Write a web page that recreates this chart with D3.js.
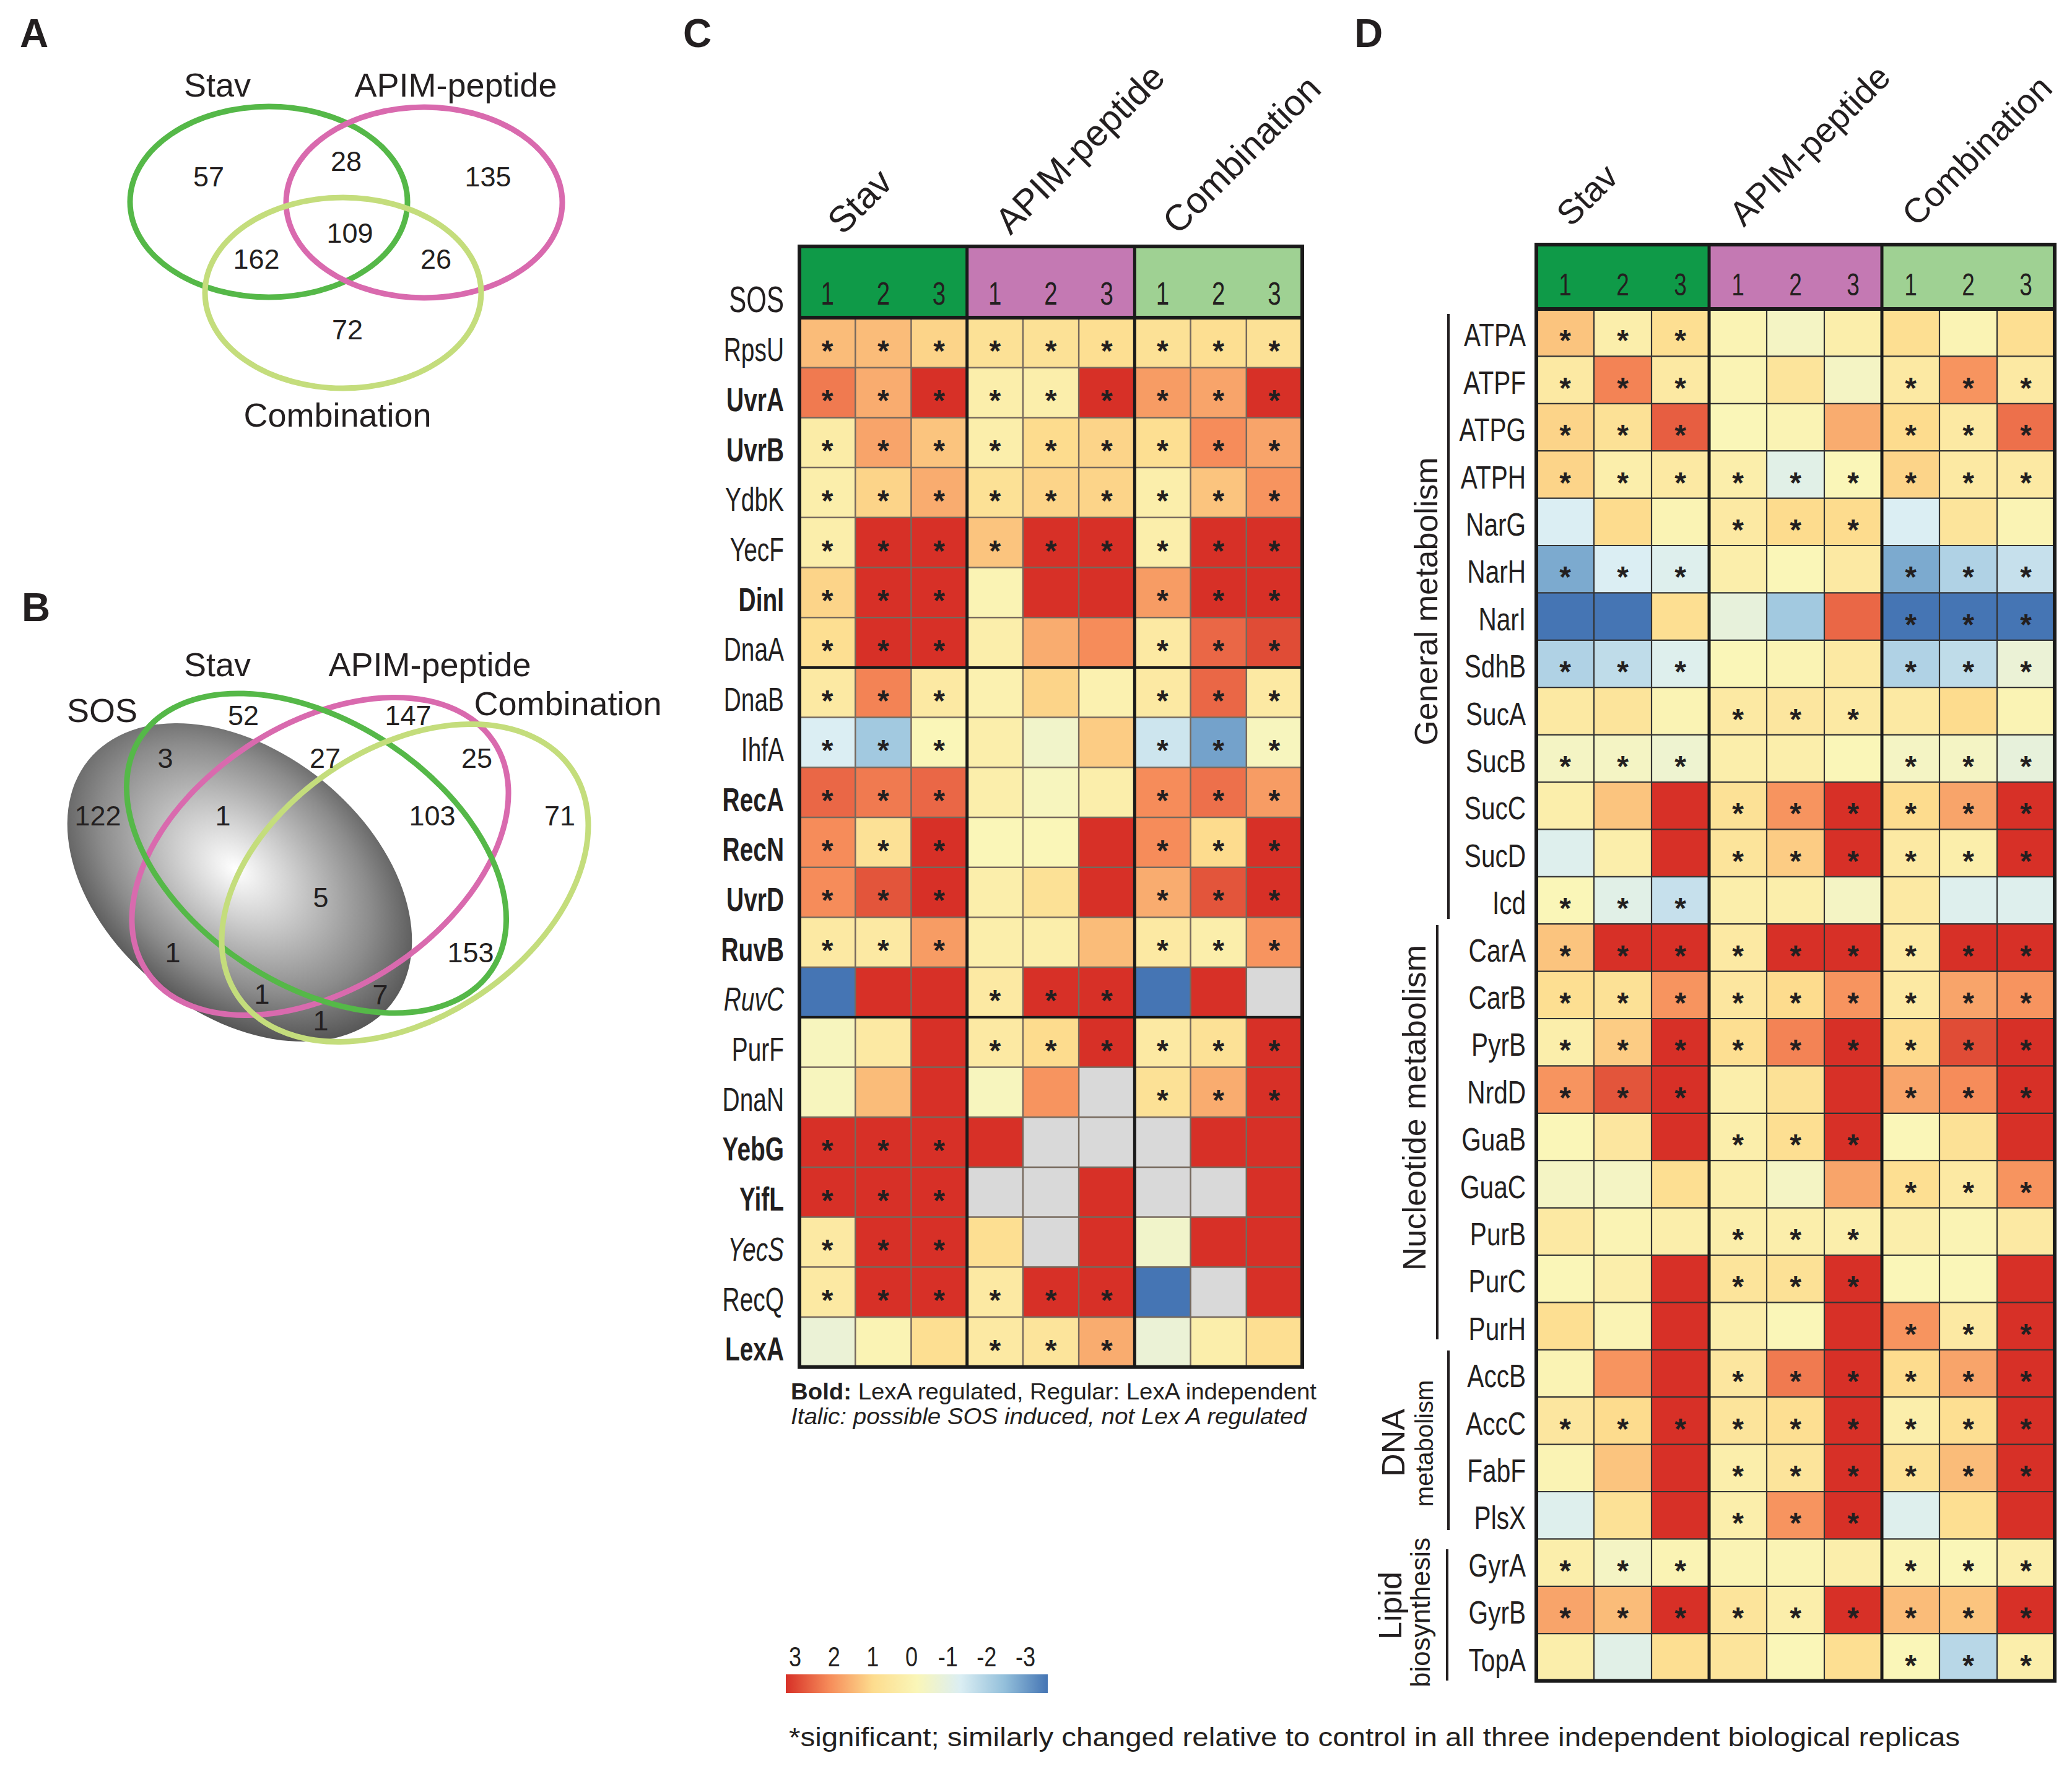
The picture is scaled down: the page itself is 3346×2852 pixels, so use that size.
<!DOCTYPE html>
<html><head><meta charset="utf-8">
<script src="https://cdn.jsdelivr.net/npm/d3@7"></script>
<style>
body{margin:0;background:#fff}
svg{display:block}
text{font-family:"Liberation Sans",Arial,Helvetica,sans-serif;fill:#231f20}
</style>
</head><body>
<svg id="chart" width="3346" height="2852"></svg>
<script>
// ---------------- DATA ----------------
const groups = ["Stav", "APIM-peptide", "Combination"];
const replicates = ["1", "2", "3"];
const groupColors = ["#0f9a48", "#c479b3", "#9fd193"];

// Venn A: Stav, APIM-peptide, Combination
const vennA_sets = ["Stav", "APIM-peptide", "Combination"];
const vennA_counts = [57, 28, 135, 109, 162, 26, 72]; // S only, S∩A, A only, all, S∩C, A∩C, C only

// Venn B: SOS, Stav, APIM-peptide, Combination
const vennB_sets = ["SOS", "Stav", "APIM-peptide", "Combination"];
const vennB_counts = [52, 147, 3, 27, 25, 122, 1, 103, 71, 5, 1, 153, 1, 7, 1];

// Panel C: SOS genes
const genesC = ["RpsU","UvrA","UvrB","YdbK","YecF","DinI","DnaA","DnaB","IhfA","RecA","RecN","UvrD","RuvB","RuvC","PurF","DnaN","YebG","YifL","YecS","RecQ","LexA"];
const styleC = ["r","b","b","r","r","b","r","r","r","b","b","b","b","i","r","r","b","b","i","r","b"];
// log-change values, columns Stav1-3, APIM1-3, Combination1-3 (null = not detected)
const valuesC = [
  [1.4,1.4,1.1, 0.8,0.8,0.9, 0.8,0.9,0.8],
  [2.2,1.6,3, 0.3,0.3,3, 1.8,1.7,3],
  [0.4,1.7,1.3, 0.3,1.0,1.1, 0.9,2.0,1.7],
  [0.3,1.1,1.6, 0.8,1.1,1.1, 0.3,1.3,1.9],
  [0.3,3,3, 1.3,3,3, 0.3,3,3],
  [1.1,3,3, 0.1,3,3, 1.8,3,3],
  [0.9,3,3, 0.3,1.6,2.0, 0.5,2.4,2.7],
  [0.5,2.1,0.5, 0.2,1.1,0.2, 0.5,2.4,0.5],
  [-1.0,-1.8,0.0, 0.3,-0.3,1.2, -1.2,-2.4,-0.1],
  [2.4,2.2,2.4, 0.3,-0.1,0.3, 2.0,2.3,1.8],
  [2.0,0.8,3, 0.0,0.0,3, 2.0,1.0,3],
  [2.0,2.6,3, 0.3,0.8,3, 1.6,2.6,3],
  [0.5,0.5,1.8, 0.3,0.3,1.4, 0.5,0.3,1.9],
  [-3,3,3, 0.5,3,3, -3,3,null],
  [-0.1,0.5,3, 0.5,1.0,3, 0.5,0.8,3],
  [-0.1,1.4,3, -0.1,1.9,null, 0.8,1.6,3],
  [3,3,3, 3,null,null, null,3,3],
  [3,3,3, null,null,3, null,null,3],
  [0.5,3,3, 0.9,null,3, -0.3,3,3],
  [0.5,3,3, 0.5,3,3, -3,null,3],
  [-0.5,0.1,0.9, 0.5,0.7,1.6, -0.5,0.3,0.9]
];
const sigC = ["111111111","111111111","111111111","111111111","111111111","111000111","111000111","111000111","111000111","111000111","111000111","111000111","111000111","000111000","000111111","000000111","111000000","111000000","111000000","111111000","000111000"];

// Panel D: metabolism genes
const genesD = ["ATPA","ATPF","ATPG","ATPH","NarG","NarH","NarI","SdhB","SucA","SucB","SucC","SucD","Icd","CarA","CarB","PyrB","NrdD","GuaB","GuaC","PurB","PurC","PurH","AccB","AccC","FabF","PlsX","GyrA","GyrB","TopA"];
const valuesD = [
  [1.3,0.3,0.9, 0.1,-0.2,0.3, 0.9,0.1,0.9],
  [0.5,2.1,0.5, 0.1,0.7,-0.2, 0.5,1.9,0.5],
  [1.1,0.8,2.5, 0.0,0.1,1.6, 1.0,0.5,2.3],
  [1.1,0.3,0.5, 0.3,-0.8,0.0, 1.1,0.5,0.5],
  [-1.0,1.0,0.1, 0.5,1.0,1.0, -1.0,0.7,0.1],
  [-2.3,-1.0,-0.9, 0.3,0.0,0.5, -2.3,-1.6,-1.3],
  [-3,-3,0.9, -0.6,-1.8,2.4, -3,-3,-3],
  [-1.6,-1.4,-0.9, 0.0,0.1,0.5, -1.6,-1.4,-0.5],
  [0.5,0.7,0.1, 0.5,0.6,0.5, 0.5,1.0,0.1],
  [-0.2,-0.2,-0.4, 0.3,0.3,0.0, -0.2,-0.2,-0.6],
  [0.3,1.3,3, 0.8,1.9,3, 1.0,1.7,3],
  [-0.9,0.3,3, 0.7,1.2,3, 0.5,0.3,3],
  [0.0,-0.8,-1.3, 0.3,0.3,-0.2, 0.5,-0.9,-0.9],
  [1.3,3,3, 0.5,3,3, 0.5,3,3],
  [0.9,0.8,1.9, 0.6,1.0,1.9, 0.5,1.7,1.9],
  [0.3,1.2,3, 0.9,2.1,3, 1.0,2.7,3],
  [1.9,2.6,3, 0.3,0.8,3, 1.7,2.0,3],
  [0.0,0.6,3, 0.3,0.9,3, 0.0,0.8,3],
  [-0.2,-0.2,0.9, 0.3,-0.2,1.7, 0.9,0.5,1.9],
  [0.5,0.1,0.3, 0.3,0.3,0.3, 0.3,0.1,0.5],
  [0.0,0.3,3, 0.7,0.8,3, 0.0,0.0,3],
  [0.9,0.1,3, 0.3,0.0,3, 1.9,0.5,3],
  [0.1,1.9,3, 0.6,2.2,3, 1.0,1.7,3],
  [0.6,1.0,3, 0.7,0.9,3, 0.3,0.9,3],
  [0.1,1.3,3, 0.3,0.7,3, 0.8,1.4,3],
  [-0.9,0.8,3, 0.3,1.9,3, -0.9,0.9,3],
  [0.3,-0.2,0.1, 0.1,0.1,0.3, 0.1,0.0,0.3],
  [1.7,1.4,3, 0.7,0.3,3, 1.4,1.3,3],
  [0.3,-0.8,0.9, 0.7,0.0,0.9, 0.0,-1.5,0.3]
];
const sigD = ["111000000","111000111","111000111","111111111","000111000","111000111","000000111","111000111","000111000","111000111","000111111","000111111","111000000","111111111","111111111","111111111","111000111","000111000","000000111","000111000","000111000","000000111","000111111","111111111","000111111","000111000","111000111","111111111","000000111"];
const categoriesD = [
  {label:["General metabolism"], from:"ATPA", to:"Icd"},
  {label:["Nucleotide metabolism"], from:"CarA", to:"PurH"},
  {label:["DNA","metabolism"], from:"AccB", to:"PlsX"},
  {label:["Lipid","biosynthesis"], from:"GyrA", to:"TopA"}
];

const legendTicks = [3, 2, 1, 0, -1, -2, -3];

// ---------------- STYLE / SCALES ----------------
const colorStops = [-3,-2,-1,0,1,2,3];
const colorRange = ['#4575b4','#94c0db','#dbeef3','#faf6b8','#fddc8e','#f68c5a','#d73027'];
const color = d3.scaleLinear().domain(colorStops).range(colorRange).clamp(true);
const naColor = '#d9d9d9';
const vennColors = {"Stav":"#55b848","APIM-peptide":"#d96aae","Combination":"#c4dd7c"};
const columns = groups.flatMap(g => replicates.map(r => g + "|" + r));

const svg = d3.select('#chart');
svg.append('rect').attr('width',3346).attr('height',2852).attr('fill','#fff');
const defs = svg.append('defs');

function ctext(sel, x, y, str, o) {
  o = o || {};
  const g = sel.append('g').attr('transform', `translate(${x},${y}) scale(${o.sx||1},1)`);
  const t = g.append('text').attr('text-anchor', o.anchor||'start')
    .attr('font-size', o.fs||50).attr('font-weight', o.fw||'normal')
    .attr('font-style', o.italic?'italic':'normal').text(str);
  return t;
}

// ---------------- PANEL LETTERS ----------------
[["A",32,76],["B",35,1003],["C",1103,76],["D",2187,76]].forEach(([l,x,y]) =>
  svg.append('text').attr('x',x).attr('y',y).attr('font-size',64).attr('font-weight','bold').text(l));

// ---------------- VENN A ----------------
const gA = svg.append('g');
const ellA = [
  {set:"Stav", cx:434, cy:326, rx:224, ry:154},
  {set:"APIM-peptide", cx:685, cy:327, rx:223, ry:154},
  {set:"Combination", cx:554, cy:473, rx:223, ry:154}
];
gA.selectAll('ellipse').data(ellA).join('ellipse')
  .attr('cx',d=>d.cx).attr('cy',d=>d.cy).attr('rx',d=>d.rx).attr('ry',d=>d.ry)
  .attr('fill','none').attr('stroke',d=>vennColors[d.set]).attr('stroke-width',9);
const labA = [[351,156],[736,156],[545,689]];
vennA_sets.forEach((s,i)=> gA.append('text').attr('x',labA[i][0]).attr('y',labA[i][1])
  .attr('text-anchor','middle').attr('font-size',54).text(s));
const posA = [[337,285],[559,260],[788,285],[565,376],[414,418],[704,418],[561,532]];
vennA_counts.forEach((c,i)=> gA.append('text').attr('x',posA[i][0]).attr('y',posA[i][1]+16)
  .attr('text-anchor','middle').attr('font-size',45).text(c));

// ---------------- VENN B ----------------
const gB = svg.append('g');
const sosGrad = defs.append('radialGradient').attr('id','sosGrad').attr('cx',0.47).attr('cy',0.47).attr('r',0.56);
[[0,'#ffffff'],[0.28,'#d2d2d2'],[0.7,'#8c8c8c'],[1,'#4f4f4f']].forEach(([o,c])=>
  sosGrad.append('stop').attr('offset',o).attr('stop-color',c));
gB.append('ellipse').attr('transform','translate(387,1425) rotate(38.9)')
  .attr('rx',314).attr('ry',212).attr('fill','url(#sosGrad)');
const ellB = [
  {set:"APIM-peptide", cx:517, cy:1383, a:336, b:213, rot:-33.4},
  {set:"Stav", cx:511, cy:1378, a:340, b:212, rot:33.6},
  {set:"Combination", cx:654, cy:1426, a:326, b:217, rot:-34.2}
];
gB.selectAll('ellipse.o').data(ellB).join('ellipse').attr('class','o')
  .attr('transform',d=>`translate(${d.cx},${d.cy}) rotate(${d.rot})`)
  .attr('rx',d=>d.a).attr('ry',d=>d.b)
  .attr('fill','none').attr('stroke',d=>vennColors[d.set]).attr('stroke-width',9);
const labB = [[165,1166],[351,1092],[694,1092],[917,1155]];
vennB_sets.forEach((s,i)=> gB.append('text').attr('x',labB[i][0]).attr('y',labB[i][1])
  .attr('text-anchor','middle').attr('font-size',54).text(s));
const posB = [[393,1155],[659,1155],[267,1224],[525,1224],[770,1224],[158,1317],[360,1317],[698,1317],[904,1317],[518,1449],[279,1538],[760,1538],[423,1605],[614,1606],[518,1648]];
vennB_counts.forEach((c,i)=> gB.append('text').attr('x',posB[i][0]).attr('y',posB[i][1]+16)
  .attr('text-anchor','middle').attr('font-size',45).text(c));

// ---------------- HEATMAPS ----------------
function heat(cfg) {
  const g = svg.append('g');
  const nR = cfg.genes.length;
  const x = d3.scaleBand().domain(columns).range([cfg.x0, cfg.x1]);
  const y = d3.scaleBand().domain(cfg.genes).range([cfg.rTop, cfg.rTop + cfg.rowH*nR]);
  const yb = cfg.rTop + cfg.rowH*nR;
  const cells = cfg.genes.flatMap((gene,i)=>columns.map((c,j)=>({gene, col:c, v:cfg.vals[i][j], s:cfg.sig[i][j]==='1'})));
  g.selectAll('rect.cell').data(cells).join('rect').attr('class','cell')
    .attr('x',d=>x(d.col)).attr('y',d=>y(d.gene))
    .attr('width',x.bandwidth()+0.6).attr('height',y.bandwidth()+0.6)
    .attr('fill',d=>d.v==null?naColor:color(d.v));
  // thin grid
  columns.forEach((c,j)=>{ if(j%3) g.append('line').attr('x1',x(c)).attr('x2',x(c)).attr('y1',cfg.rTop).attr('y2',yb)
    .attr('stroke',cfg.thin).attr('stroke-width',cfg.thinW); });
  cfg.genes.forEach((gene,i)=>{ if(i) g.append('line').attr('x1',cfg.x0).attr('x2',cfg.x1).attr('y1',y(gene)).attr('y2',y(gene))
    .attr('stroke',(cfg.thickRows||[]).includes(gene)?'#1a1a1a':cfg.thin)
    .attr('stroke-width',(cfg.thickRows||[]).includes(gene)?4:cfg.thinW); });
  // header
  groups.forEach((gr,k)=>{
    const gx = x(columns[k*3]);
    g.append('rect').attr('x',gx).attr('y',cfg.hTop).attr('width',x.bandwidth()*3).attr('height',cfg.rTop-cfg.hTop).attr('fill',groupColors[k]);
  });
  columns.forEach((c)=> ctext(g, x(c)+x.bandwidth()/2, cfg.numY, c.split('|')[1], {anchor:'middle', fs:cfg.numFs, sx:0.74}));
  // thick separators
  [1,2].forEach(k=>{ const xx = x(columns[k*3]);
    g.append('line').attr('x1',xx).attr('x2',xx).attr('y1',cfg.hTop).attr('y2',yb).attr('stroke','#1a1a1a').attr('stroke-width',5); });
  g.append('line').attr('x1',cfg.x0).attr('x2',cfg.x1).attr('y1',cfg.rTop).attr('y2',cfg.rTop).attr('stroke','#1a1a1a').attr('stroke-width',6);
  g.append('rect').attr('x',cfg.x0).attr('y',cfg.hTop).attr('width',cfg.x1-cfg.x0).attr('height',yb-cfg.hTop)
    .attr('fill','none').attr('stroke','#1a1a1a').attr('stroke-width',6);
  // stars
  g.selectAll('text.star').data(cells.filter(d=>d.s)).join('text').attr('class','star')
    .attr('x',d=>x(d.col)+x.bandwidth()/2).attr('y',d=>y(d.gene)+cfg.rowH*0.53+27)
    .attr('text-anchor','middle').attr('font-size',48).attr('font-weight','bold').text('*');
  // row labels
  cfg.genes.forEach((gene,i)=>{
    const st = cfg.styles ? cfg.styles[i] : 'r';
    ctext(g, cfg.labelX, y(gene)+cfg.rowH*cfg.labelBase, gene, {anchor:'end', fs:cfg.labelFs, sx:cfg.labelSx,
      fw: st==='b'?'bold':'normal', italic: st==='i'});
  });
  // titles
  groups.forEach((gr,k)=>{
    const ax = x(columns[k*3]) + cfg.titleDx;
    g.append('text').attr('transform',`translate(${ax},${cfg.titleY}) rotate(-45)`).attr('font-size',cfg.titleFs).text(gr);
  });
  return {x, y, g};
}

// Panel C
const hc = heat({x0:1291, x1:2103, hTop:398, rTop:513, rowH:80.7, genes:genesC, vals:valuesC, sig:sigC, styles:styleC,
  thin:'#76695d', thinW:2.5, thickRows:["DnaB","PurF"], numY:492, numFs:52, labelX:1266, labelBase:0.87, labelFs:54, labelSx:0.72,
  titleDx:70, titleY:381, titleFs:59});
ctext(hc.g, 1266, 504, "SOS", {anchor:'end', fs:60, sx:0.7});

// annotations under C
svg.append('text').attr('x',1277).attr('y',2260).attr('font-size',36).attr('textLength',849).attr('lengthAdjust','spacingAndGlyphs')
  .call(t=>{ t.append('tspan').attr('font-weight','bold').text('Bold:'); t.append('tspan').text(' LexA regulated, Regular: LexA independent'); });
svg.append('text').attr('x',1277).attr('y',2300).attr('font-size',36).attr('font-style','italic').attr('textLength',833).attr('lengthAdjust','spacingAndGlyphs')
  .text('Italic: possible SOS induced, not Lex A regulated');

// Panel D
const hd = heat({x0:2481, x1:3318, hTop:395, rTop:499, rowH:76.4, genes:genesD, vals:valuesD, sig:sigD,
  thin:'#333', thinW:2.2, numY:477, numFs:50, labelX:2464, labelBase:0.79, labelFs:52, labelSx:0.78,
  titleDx:56, titleY:368, titleFs:56});

// category brackets for D
const catLayout = [
  {lineX:2339, y1:507, y2:1484, texts:[{x:2321, y:971, fs:52}]},
  {lineX:2321, y1:1494, y2:2163, texts:[{x:2302, y:1789, fs:52}]},
  {lineX:2339, y1:2181, y2:2471, texts:[{x:2268, y:2330, fs:52},{x:2314, y:2331, fs:40}]},
  {lineX:2337, y1:2502, y2:2714, texts:[{x:2263, y:2593, fs:52},{x:2309, y:2604, fs:44}]}
];
categoriesD.forEach((c,i)=>{
  const L = catLayout[i];
  svg.append('line').attr('x1',L.lineX).attr('x2',L.lineX).attr('y1',L.y1).attr('y2',L.y2).attr('stroke','#231f20').attr('stroke-width',4);
  c.label.forEach((s,j)=>{
    const t = L.texts[j];
    svg.append('text').attr('transform',`translate(${t.x},${t.y}) rotate(-90)`).attr('text-anchor','middle')
      .attr('font-size',t.fs).text(s);
  });
});

// ---------------- LEGEND ----------------
const legGrad = defs.append('linearGradient').attr('id','legGrad').attr('x1',0).attr('x2',1).attr('y1',0).attr('y2',0);
legendTicks.forEach((v,i)=> legGrad.append('stop').attr('offset', i/(legendTicks.length-1)).attr('stop-color', color(v)));
svg.append('rect').attr('x',1269).attr('y',2704).attr('width',423).attr('height',30).attr('fill','url(#legGrad)');
const legX = d3.scaleLinear().domain([3,-3]).range([1284,1660]);
legendTicks.forEach(v=> ctext(svg, legX(v) - (v<0?4:0), 2691, String(v), {anchor:'middle', fs:44, sx:0.82}));

// footnote
svg.append('text').attr('x',1274).attr('y',2820).attr('font-size',43).attr('textLength',1891).attr('lengthAdjust','spacingAndGlyphs')
  .text('*significant; similarly changed relative to control in all three independent biological replicas');
</script>
</body></html>
